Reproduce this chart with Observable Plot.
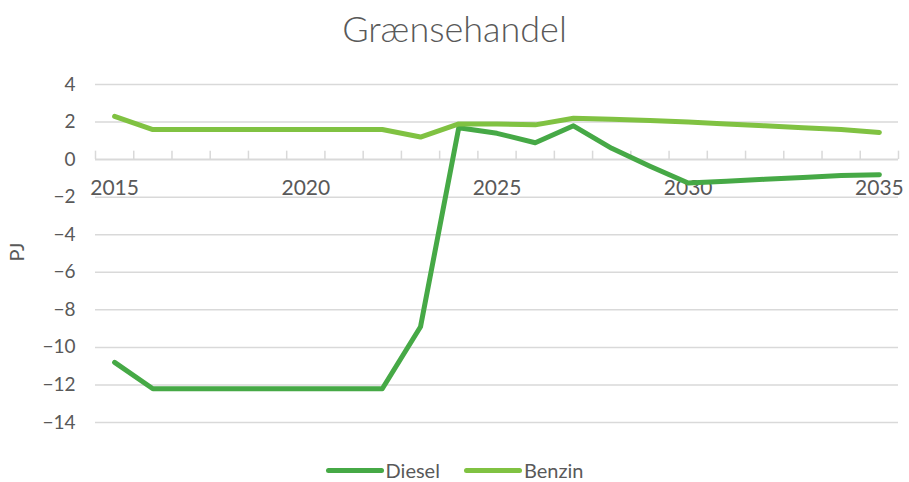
<!DOCTYPE html>
<html>
<head>
<meta charset="utf-8">
<script src="https://cdn.jsdelivr.net/npm/d3@7"></script>
<script src="https://cdn.jsdelivr.net/npm/@observablehq/plot@0.6"></script>
<style>
  html, body { margin: 0; padding: 0; background: #fff; }
  #wrap { position: relative; width: 909px; height: 482px; font-family: Lato, "Open Sans", sans-serif; color: #595959; }
  #title { position: absolute; left: 0; width: 909px; top: 6px; text-align: center; font-size: 36px; color: #595959; font-weight: 300; }
  #legend { position: absolute; left: 0; width: 909px; top: 458px; display: flex; justify-content: center; gap: 24px; font-size: 20px; }
  .item { display: flex; align-items: center; }
  .sw { width: 58px; height: 5px; border-radius: 3px; margin-right: 2px; }
</style>
</head>
<body>
<div id="wrap">
  <div id="title">Grænsehandel</div>
  <div id="chart"></div>
  <div id="legend"></div>
</div>
<script>
const years = [2015,2016,2017,2018,2019,2020,2021,2022,2023,2024,2025,2026,2027,2028,2029,2030,2031,2032,2033,2034,2035];
const diesel = [-10.8,-12.2,-12.2,-12.2,-12.2,-12.2,-12.2,-12.2,-8.9,1.7,1.4,0.9,1.8,0.6,-0.35,-1.25,-1.15,-1.05,-0.95,-0.85,-0.8];
const benzin = [2.3,1.6,1.6,1.6,1.6,1.6,1.6,1.6,1.2,1.9,1.9,1.85,2.2,2.15,2.08,2.0,1.9,1.8,1.7,1.6,1.45];
const yTicks = [4,2,0,-2,-4,-6,-8,-10,-12,-14];
const xLabels = [2015,2020,2025,2030,2035];
const seriesNames = ["Diesel","Benzin"];
const seriesColors = ["#46a946","#80c242"];

const rows = [];
years.forEach((y,i) => {
  rows.push({year: y, value: diesel[i], series: "Diesel"});
  rows.push({year: y, value: benzin[i], series: "Benzin"});
});
const boundaries = [years[0]-0.5, ...years.map(y => y+0.5)];

const chart = Plot.plot({
  width: 909,
  height: 482,
  marginLeft: 95,
  marginRight: 11,
  marginTop: 84,
  marginBottom: 60,
  style: {fontFamily: "Lato, 'Open Sans', sans-serif", color: "#595959", background: "transparent"},
  x: {domain: [years[0]-0.5, years[years.length-1]+0.5], axis: null},
  y: {domain: [-14, 4], axis: null},
  color: {domain: seriesNames, range: seriesColors},
  marks: [
    Plot.ruleY(yTicks.filter(d => d !== 0), {stroke: "#d9d9d9", strokeWidth: 1.5}),
    Plot.ruleY([0], {stroke: "#d9d9d9", strokeWidth: 2}),
    Plot.ruleX(boundaries, {y1: 0, y2: 0.45, stroke: "#d9d9d9", strokeWidth: 1.5}),
    Plot.text(yTicks, {x: years[0]-0.5, y: d => d, text: d => d < 0 ? "\u2212" + Math.abs(d) : String(d), textAnchor: "end", dx: -20, fontSize: 19, fill: "#595959"}),
    Plot.text(xLabels, {x: d => d, y: 0, text: d => String(d), dy: 29, fontSize: 21, fill: "#595959"}),
    Plot.line(rows, {x: "year", y: "value", stroke: "series", strokeWidth: 5, strokeLinecap: "round", strokeLinejoin: "round"})
  ]
});
document.getElementById("chart").appendChild(chart);

// y-axis title
const svg = d3.select(chart);
svg.append("text")
  .attr("transform", "translate(24,252) rotate(-90)")
  .attr("text-anchor", "middle")
  .attr("font-size", 20)
  .attr("fill", "#595959")
  .text("PJ");

const legend = document.getElementById("legend");
seriesNames.forEach((n,i) => {
  const it = document.createElement("div");
  it.className = "item";
  const sw = document.createElement("div");
  sw.className = "sw";
  sw.style.background = seriesColors[i];
  const t = document.createElement("span");
  t.textContent = n;
  it.appendChild(sw); it.appendChild(t);
  legend.appendChild(it);
});
</script>
</body>
</html>
